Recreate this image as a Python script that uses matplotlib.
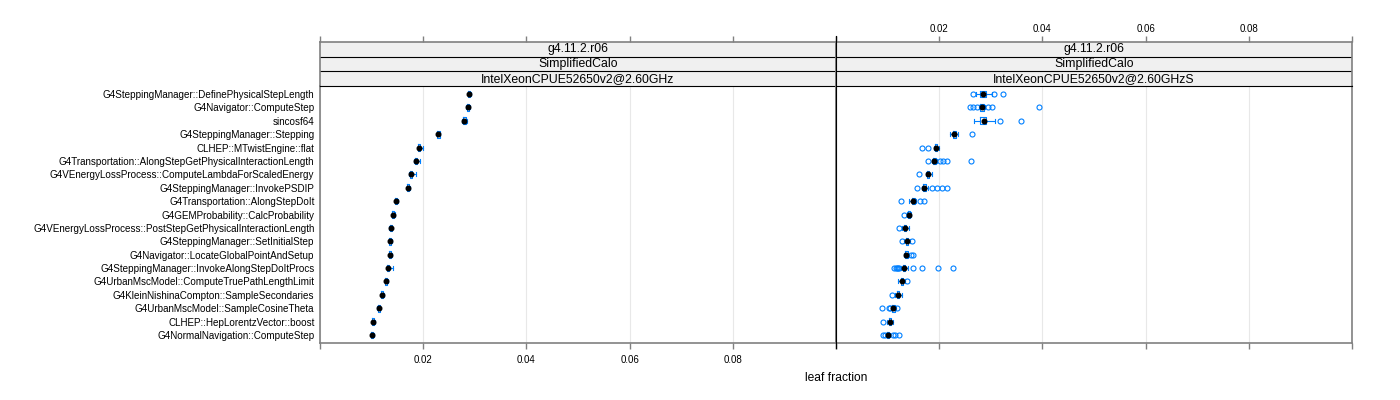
import matplotlib
matplotlib.use("Agg")
import matplotlib.pyplot as plt
from matplotlib.lines import Line2D

plt.rcParams['font.family'] = ['Liberation Sans', 'DejaVu Sans']

# functions, top to bottom
functions = [
    "G4SteppingManager::DefinePhysicalStepLength",
    "G4Navigator::ComputeStep",
    "sincosf64",
    "G4SteppingManager::Stepping",
    "CLHEP::MTwistEngine::flat",
    "G4Transportation::AlongStepGetPhysicalInteractionLength",
    "G4VEnergyLossProcess::ComputeLambdaForScaledEnergy",
    "G4SteppingManager::InvokePSDIP",
    "G4Transportation::AlongStepDoIt",
    "G4GEMProbability::CalcProbability",
    "G4VEnergyLossProcess::PostStepGetPhysicalInteractionLength",
    "G4SteppingManager::SetInitialStep",
    "G4Navigator::LocateGlobalPointAndSetup",
    "G4SteppingManager::InvokeAlongStepDoItProcs",
    "G4UrbanMscModel::ComputeTruePathLengthLimit",
    "G4KleinNishinaCompton::SampleSecondaries",
    "G4UrbanMscModel::SampleCosineTheta",
    "CLHEP::HepLorentzVector::boost",
    "G4NormalNavigation::ComputeStep",
]

strip_version = "g4.11.2.r06"
strip_test = "SimplifiedCalo"
left_machine = "IntelXeonCPUE52650v2@2.60GHz"
right_machine = "IntelXeonCPUE52650v2@2.60GHzS"

# left panel box stats
left_med = [0.0289, 0.0287, 0.0280, 0.0229, 0.0192, 0.0186, 0.0176, 0.0171, 0.0148, 0.0142,
            0.0137, 0.0136, 0.0136, 0.0132, 0.0128, 0.0121, 0.0114, 0.0103, 0.0101]
left_q1 = [0.0287, 0.0285, 0.0277, 0.0227, 0.0190, 0.0184, 0.0174, 0.0169, 0.0146, 0.0140,
           0.0135, 0.0134, 0.0134, 0.0130, 0.0126, 0.0119, 0.0112, 0.0101, 0.0099]
left_q3 = [0.0291, 0.0289, 0.0282, 0.0232, 0.0194, 0.0188, 0.0179, 0.0173, 0.0150, 0.0144,
           0.0139, 0.0138, 0.0138, 0.0134, 0.0130, 0.0123, 0.0116, 0.0105, 0.0103]
left_lo = [0.0286, 0.0283, 0.0276, 0.0226, 0.0189, 0.0183, 0.0173, 0.0168, 0.0145, 0.0139,
           0.0133, 0.0133, 0.0133, 0.0129, 0.0125, 0.0118, 0.0111, 0.0100, 0.0098]
left_hi = [0.0292, 0.0290, 0.0284, 0.0233, 0.0199, 0.0194, 0.0186, 0.0174, 0.0151, 0.0145,
           0.0140, 0.0139, 0.0139, 0.0142, 0.0131, 0.0124, 0.0117, 0.0106, 0.0104]
left_out = [[] for _ in range(19)]

# right panel box stats
right_med = [0.0285, 0.0283, 0.0286, 0.0229, 0.0194, 0.0190, 0.0178, 0.0171, 0.0150, 0.0142,
             0.0134, 0.0137, 0.0136, 0.0131, 0.0128, 0.0120, 0.0111, 0.0104, 0.0101]
right_q1 = [0.0279, 0.0280, 0.0279, 0.0226, 0.0192, 0.0188, 0.0176, 0.0169, 0.0148, 0.0140,
            0.0132, 0.0135, 0.0134, 0.0129, 0.0126, 0.0118, 0.0109, 0.0102, 0.0099]
right_q3 = [0.0291, 0.0287, 0.0291, 0.0232, 0.0196, 0.0193, 0.0181, 0.0174, 0.0153, 0.0144,
            0.0136, 0.0140, 0.0139, 0.0134, 0.0130, 0.0123, 0.0114, 0.0107, 0.0103]
right_lo = [0.0272, 0.0277, 0.0268, 0.0220, 0.0190, 0.0186, 0.0174, 0.0167, 0.0142, 0.0137,
            0.0128, 0.0132, 0.0131, 0.0125, 0.0121, 0.0115, 0.0106, 0.0099, 0.0097]
right_hi = [0.0303, 0.0289, 0.0308, 0.0237, 0.0200, 0.0196, 0.0186, 0.0178, 0.0156, 0.0146,
            0.0142, 0.0143, 0.0142, 0.0140, 0.0133, 0.0128, 0.0116, 0.0110, 0.0105]
right_out = [
    [0.0266, 0.0307, 0.0324],
    [0.0260, 0.0266, 0.0273, 0.0295, 0.0302, 0.0394],
    [0.0318, 0.0358],
    [0.0263],
    [0.0166, 0.0179],
    [0.0178, 0.0202, 0.0208, 0.0215, 0.0262],
    [0.0160],
    [0.0157, 0.0186, 0.0195, 0.0205, 0.0216],
    [0.0126, 0.0162, 0.0170],
    [0.0131],
    [0.0122],
    [0.0128, 0.0147],
    [0.0145, 0.0150],
    [0.0113, 0.0116, 0.0118, 0.0120, 0.0122, 0.0150, 0.0166, 0.0197, 0.0226],
    [0.0137],
    [0.0108],
    [0.0089, 0.0102, 0.0104, 0.0119],
    [0.0092],
    [0.0092, 0.0095, 0.0111, 0.0114, 0.0122],
]

xticks = [0.0, 0.02, 0.04, 0.06, 0.08, 0.1]
xticklabels = ["", "0.02", "0.04", "0.06", "0.08", ""]

BLUE = "#0080ff"
FRAME = "#808080"
W, H = 1400, 400


def box_panel(ax, med, q1, q3, lo, hi, out, show_labels):
    stats = []
    for i in range(len(med)):
        stats.append(dict(med=med[i], q1=q1[i], q3=q3[i], whislo=lo[i], whishi=hi[i], fliers=out[i]))
    pos = list(range(1, len(med) + 1))
    ax.bxp(stats, positions=pos, widths=0.5, capwidths=0.3, orientation='horizontal',
           patch_artist=False, showfliers=True,
           boxprops=dict(color=BLUE, linewidth=0.8),
           whiskerprops=dict(color=BLUE, linewidth=0.8),
           capprops=dict(color=BLUE, linewidth=0.8),
           medianprops=dict(linestyle='none'),
           flierprops=dict(marker='o', markerfacecolor='none', markeredgecolor=BLUE,
                           markersize=3.6, markeredgewidth=0.8))
    ax.plot(med, pos, 'o', color='black', markersize=3.3, zorder=5)
    ax.set_xlim(0, 0.1)
    ax.set_ylim(len(med) + 0.6, 0.4)
    ax.set_xticks(xticks)
    ax.grid(axis='x', color='#e8e8e8', linewidth=0.8)
    ax.set_axisbelow(True)
    for s in ax.spines.values():
        s.set_color(FRAME)
        s.set_linewidth(1.2)
    ax.tick_params(axis='x', direction='out', length=4.3, width=1.0, color=FRAME, pad=4,
                   labelsize=7.0, labelbottom=show_labels)
    if show_labels:
        ax.set_xticklabels(xticklabels)
        ax.set_yticks(pos)
        ax.set_yticklabels(functions)
        ax.tick_params(axis='y', length=0, pad=4, labelsize=7.1)
    else:
        ax.set_yticks([])


def strip_panel(ax, machine, show_labels):
    ax.set_xlim(0, 0.1)
    ax.set_ylim(0, 3)
    ax.axhspan(0, 3, color='#f0f0f0', zorder=0)
    ax.axhline(1, color='black', linewidth=0.8)
    ax.axhline(2, color='black', linewidth=0.8)
    for k, s in enumerate([machine, strip_test, strip_version]):
        ax.text(0.5, (k + 0.5) / 3, s, transform=ax.transAxes, ha='center', va='center',
                fontsize=8.85)
    ax.set_yticks([])
    ax.xaxis.tick_top()
    ax.set_xticks(xticks)
    ax.set_xticklabels(xticklabels if show_labels else [""] * len(xticks))
    ax.tick_params(axis='x', direction='out', length=4.3, width=1.0, color=FRAME, pad=1.5,
                   labelsize=7.0)
    for s in ax.spines.values():
        s.set_color(FRAME)
        s.set_linewidth(1.2)
    ax.spines['bottom'].set_color('black')
    ax.spines['bottom'].set_linewidth(0.8)


fig = plt.figure(figsize=(14, 4), dpi=100)

# panel geometry in pixels
px_left = [320, 836]
px_w = 516
px_top_strip, px_top_panel, px_bottom = 42, 86, 343

axs = []
for i in range(2):
    ax = fig.add_axes([px_left[i] / W, 1 - px_bottom / H, px_w / W, (px_bottom - px_top_panel) / H])
    axs.append(ax)
    sx = fig.add_axes([px_left[i] / W, 1 - px_top_panel / H, px_w / W, (px_top_panel - px_top_strip) / H])
    strip_panel(sx, left_machine if i == 0 else right_machine, i == 1)

box_panel(axs[0], left_med, left_q1, left_q3, left_lo, left_hi, left_out, True)
box_panel(axs[1], right_med, right_q1, right_q3, right_lo, right_hi, right_out, False)

# black divider between the two panels
fig.add_artist(Line2D([836 / W, 836 / W], [1 - 36 / H, 1 - 348 / H], color='black', linewidth=0.8))

fig.text(836 / W, 1 - 378 / H, "leaf fraction", ha='center', va='center', fontsize=8.64)

fig.savefig("out.png", dpi=100)
